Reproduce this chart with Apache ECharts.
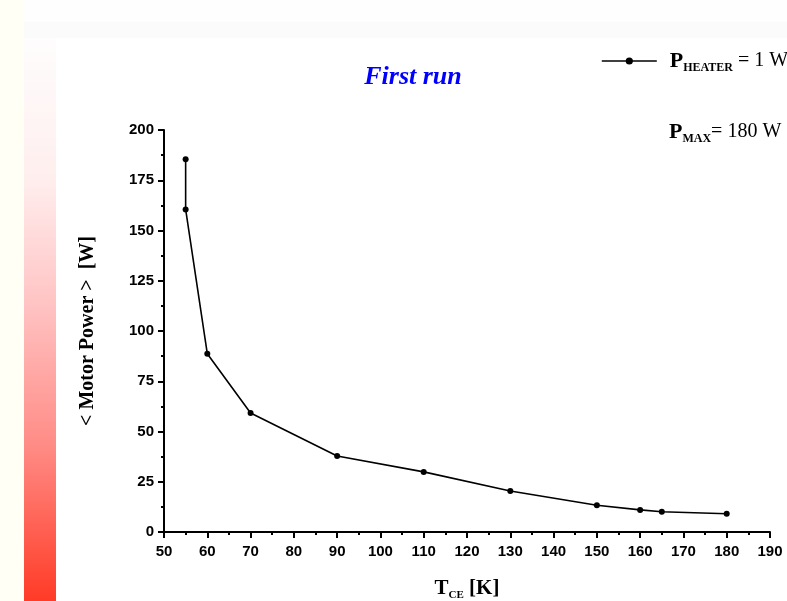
<!DOCTYPE html>
<html>
<head>
<meta charset="utf-8">
<script src="https://cdn.jsdelivr.net/npm/echarts@6/dist/echarts.min.js"></script>
<style>
html,body{margin:0;padding:0;background:#fffff6;}
#main{width:787px;height:601px;}
</style>
</head>
<body>
<div id="main"></div>
<script>
// Data
const tempK = [55, 55, 60, 70, 90, 110, 130, 150, 160, 165, 180];
const motorPower = [185.5, 160.5, 88.7, 59.2, 37.8, 29.9, 20.4, 13.3, 11.0, 10.1, 9.1];
const seriesName = 'P_HEATER = 1 W';
const xTicks = {min: 50, max: 190, interval: 10};
const yTicks = {min: 0, max: 200, interval: 25};

const chart = echarts.init(document.getElementById('main'), null, {renderer: 'canvas'});
const serif = '"Liberation Serif", "Times New Roman", serif';
const sans = '"Liberation Sans", Arial, sans-serif';

const richLabel = {
  b: {fontFamily: serif, fontWeight: 'bold', fontSize: 22, color: '#000', fill: '#000'},
  s: {fontFamily: serif, fontWeight: 'bold', fontSize: 12, color: '#000', fill: '#000', padding: [14, 0, 0, 0]},
  n: {fontFamily: serif, fontSize: 20, color: '#000', fill: '#000'}
};

const option = {
  backgroundColor: 'transparent',
  animation: false,
  graphic: [
    {type: 'rect', z: -10, shape: {x: 0, y: 0, width: 24, height: 601}, style: {fill: '#fffff6'}},
    {type: 'rect', z: -10, shape: {x: 24, y: 0, width: 763, height: 22}, style: {fill: '#fefefe'}},
    {type: 'rect', z: -10, shape: {x: 24, y: 22, width: 763, height: 16}, style: {fill: '#fbfbfb'}},
    {type: 'rect', z: -10, shape: {x: 56, y: 38, width: 731, height: 563}, style: {fill: '#ffffff'}},
    {type: 'rect', z: -10, shape: {x: 24, y: 38, width: 32, height: 563},
      style: {fill: new echarts.graphic.LinearGradient(0, 0, 0, 1, [
        {offset: 0, color: '#fefdfd'},
        {offset: 0.25, color: '#ffeeee'},
        {offset: 0.47, color: '#ffc4c4'},
        {offset: 0.73, color: '#ff8a84'},
        {offset: 1, color: '#ff3b26'}
      ])}},
    {type: 'text', left: 669, top: 121, z: 10,
      style: {
        text: '{b|P}{s|MAX}{n|= 180 W}',
        rich: richLabel
      }}
  ],
  title: {
    text: 'First run',
    left: 408, top: 59, textAlign: 'center',
    textStyle: {fontFamily: serif, fontStyle: 'italic', fontWeight: 'bold', fontSize: 26, color: '#0000ff'}
  },
  legend: {
    left: 601, top: 50, padding: 0,
    itemWidth: 55, itemHeight: 9, itemGap: 10,
    lineStyle: {width: 1.6},
    data: [seriesName],
    formatter: function () { return '{b|P}{s|HEATER}{n| = 1 W}'; },
    textStyle: {
      rich: {
        b: Object.assign({}, richLabel.b, {padding: [0, 0, 0, 8]}),
        s: richLabel.s,
        n: richLabel.n
      }
    }
  },
  grid: {left: 164, right: 17, top: 130, bottom: 69, containLabel: false, outerBoundsMode: 'none'},
  xAxis: {
    type: 'value', min: xTicks.min, max: xTicks.max, interval: xTicks.interval,
    name: '{t|T}{s|CE}{k| [K]}', nameLocation: 'middle', nameGap: 45,
    nameTextStyle: {
      rich: {
        t: {fontFamily: serif, fontWeight: 'bold', fontSize: 21, color: '#000'},
        s: {fontFamily: serif, fontWeight: 'bold', fontSize: 11, color: '#000', padding: [13, 0, 0, 0]},
        k: {fontFamily: serif, fontWeight: 'bold', fontSize: 21, color: '#000'}
      }
    },
    axisLine: {show: true, onZero: false, lineStyle: {color: '#000', width: 2}},
    axisTick: {show: true, inside: false, length: 6, lineStyle: {color: '#000', width: 2}},
    minorTick: {show: true, splitNumber: 2, length: 3, lineStyle: {color: '#000', width: 2}},
    splitLine: {show: false},
    axisLabel: {fontFamily: sans, fontWeight: 'bold', fontSize: 15, color: '#000', margin: 12}
  },
  yAxis: {
    type: 'value', min: yTicks.min, max: yTicks.max, interval: yTicks.interval,
    name: '< Motor Power >  [W]', nameLocation: 'middle', nameGap: 66, nameRotate: 90,
    nameTextStyle: {fontFamily: serif, fontWeight: 'bold', fontSize: 20, color: '#000'},
    axisLine: {show: true, onZero: false, lineStyle: {color: '#000', width: 2}},
    axisTick: {show: true, inside: false, length: 6, lineStyle: {color: '#000', width: 2}},
    minorTick: {show: true, splitNumber: 2, length: 3, lineStyle: {color: '#000', width: 2}},
    splitLine: {show: false},
    axisLabel: {fontFamily: sans, fontWeight: 'bold', fontSize: 15, color: '#000', margin: 10}
  },
  series: [{
    name: seriesName,
    type: 'line',
    data: tempK.map((x, i) => [x, motorPower[i]]),
    symbol: 'circle', symbolSize: 6,
    itemStyle: {color: '#000'},
    lineStyle: {color: '#000', width: 1.6},
    showSymbol: true
  }]
};
chart.setOption(option);
</script>
</body>
</html>
